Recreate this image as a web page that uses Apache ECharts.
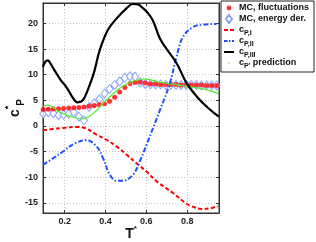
<!DOCTYPE html>
<html><head><meta charset="utf-8">
<script src="https://cdn.jsdelivr.net/npm/echarts@6/dist/echarts.min.js"></script>
<style>html,body{margin:0;padding:0;background:#fff}#c{width:316px;height:242px}</style>
</head><body><div id="c"></div>
<script>
// ---- data ----
const mcT = [0.095,0.12,0.145,0.17,0.195,0.22,0.245,0.27,0.295,0.32,0.345,0.37,0.395,0.42,0.445,0.47,0.495,0.52,0.545,0.57,0.595,0.62,0.645,0.67,0.695,0.72,0.745,0.77,0.795,0.82,0.845,0.87,0.895,0.92,0.945];
const mcFluct = [3.2,3.25,3.3,3.35,3.4,3.5,3.55,3.6,3.7,3.85,4.0,4.15,4.35,4.8,5.6,6.6,7.5,8.3,8.5,8.6,8.4,8.2,8.2,8.1,8.1,8.1,8.1,8.0,8.0,8.0,8.0,8.0,7.9,7.9,7.9];
const mcEnergy = [2.4,2.7,2.5,2.1,2.2,2.4,2.7,1.8,1.1,3.7,4.4,5.2,6.3,7.2,8.0,8.7,9.4,9.7,9.6,8.5,8.2,8.1,8.1,8.1,8.0,8.0,8.0,8.0,8.0,8.0,8.0,7.9,7.9,7.9,7.9];
const cp1T = [0.094,0.14,0.192,0.258,0.298,0.356,0.405,0.454,0.503,0.552,0.601,0.65,0.731,0.797,0.83,0.87,0.911,0.952];
const cp1V = [-0.86,-0.6,-0.4,-0.2,-0.4,-1.7,-2.7,-4.0,-5.6,-7.3,-8.9,-10.8,-13.1,-15.2,-15.8,-16.2,-16.1,-15.6];
const cp2T = [0.094,0.14,0.192,0.25,0.307,0.356,0.388,0.421,0.454,0.486,0.535,0.568,0.601,0.633,0.666,0.715,0.748,0.78,0.829,0.878,0.944];
const cp2V = [-7.6,-6.4,-5.0,-3.4,-2.8,-4.0,-6.3,-9.5,-10.7,-10.7,-9.5,-6.9,-3.7,-0.4,3.0,8.3,13.5,17.4,19.3,19.8,19.9];
const cp3T = [0.094,0.105,0.117,0.13,0.15,0.18,0.21,0.24,0.264,0.289,0.313,0.331,0.347,0.372,0.411,0.455,0.504,0.534,0.56,0.583,0.602,0.632,0.666,0.70,0.749,0.798,0.85,0.90,0.955];
const cp3V = [11.5,12.5,12.8,12.2,10.9,9.0,7.5,5.5,4.6,5.0,7.0,8.9,10.9,14.8,18.7,21.0,23.0,23.8,23.7,23.0,22.3,20.6,17.1,15.0,12.2,8.3,5.6,3.6,1.8];
const predT = [0.094,0.119,0.176,0.241,0.29,0.339,0.388,0.429,0.478,0.527,0.593,0.658,0.74,0.821,0.903,0.952];
const predV = [3.8,4.0,2.7,1.7,1.4,2.4,4.4,6.0,7.6,8.6,9.2,8.6,8.1,7.6,7.0,6.3];
const xTicks = [0.2,0.4,0.6,0.8];
const yTicks = [-15,-10,-5,0,5,10,15,20];
const names = ['MC, fluctuations','MC, energy der.','cP,I','cP,II','cP,III','cP prediction'];
const labels = ['MC, fluctuations','MC, energy der.','{c|c}{s|P,I}','{c|c}{s|P,II}','{c|c}{s|P,III}',"{c|c}{s|P'}{c| prediction}"];

// ---- chart ----
const FONT = '"Liberation Sans", Arial, sans-serif';
const zip = (a,b) => a.map((v,i)=>[v,b[i]]);
const xMin=0.094, xMax=0.956, yMin=-17, yMax=24;
const frame = '#333';
const boxPad = 'M0,0h0.01M10,10h0.01';
function baseAxis(extra){
  return Object.assign({type:'value',
    axisLine:{show:true,onZero:false,lineStyle:{color:frame,width:1}},
    splitLine:{show:false}}, extra);
}
const chart = echarts.init(document.getElementById('c'), null, {renderer:'canvas'});
chart.setOption({
  animation:false,
  grid:{left:43,top:3,right:97,bottom:29,containLabel:false,outerBoundsMode:'none',
    show:true,borderColor:frame,borderWidth:1,backgroundColor:'#fff'},
  xAxis:[
    baseAxis({min:xMin,max:xMax,
      axisTick:{show:true,inside:true,length:3,customValues:xTicks,lineStyle:{color:frame}},
      axisLabel:{customValues:xTicks,fontSize:9,fontWeight:'bold',color:'#222',fontFamily:FONT,margin:4,formatter:v=>v.toFixed(1)},
      splitLine:{show:true,lineStyle:{color:'#c4c4c4',type:[1,2],width:1}},
      name:'{m|T}{s|*}',nameLocation:'middle',nameGap:12,nameMoveOverlap:false,
      nameTextStyle:{rich:{
        m:{fontSize:14,fontWeight:'bold',fontFamily:FONT,color:'#111',lineHeight:18},
        s:{fontSize:8,fontWeight:'bold',fontFamily:FONT,color:'#111',verticalAlign:'top'}}}
    }),
    baseAxis({min:xMin,max:xMax,position:'top',
      axisTick:{show:true,inside:true,length:3,customValues:xTicks,lineStyle:{color:frame}},
      axisLabel:{show:false}})
  ],
  yAxis:[
    baseAxis({min:yMin,max:yMax,
      axisTick:{show:true,inside:true,length:3,customValues:yTicks,lineStyle:{color:frame}},
      axisLabel:{customValues:yTicks,fontSize:9,fontWeight:'bold',color:'#222',fontFamily:FONT,margin:5},
      splitLine:{show:true,lineStyle:{color:'#c4c4c4',type:[1,2],width:1}},
      name:'{c|c}{sup|*}{sub|P}',nameLocation:'middle',nameGap:17,nameRotate:90,nameMoveOverlap:false,
      nameTextStyle:{rich:{
        c:{fontSize:14,fontWeight:'bold',fontFamily:FONT,color:'#111',lineHeight:22},
        sup:{fontSize:9,fontWeight:'bold',fontFamily:FONT,color:'#111',verticalAlign:'top'},
        sub:{fontSize:10,fontWeight:'bold',fontFamily:FONT,color:'#111',verticalAlign:'bottom'}}}
    }),
    baseAxis({min:yMin,max:yMax,position:'right',
      axisTick:{show:true,inside:true,length:3,customValues:yTicks,lineStyle:{color:frame}},
      axisLabel:{show:false}})
  ],
  legend:{
    orient:'vertical',left:221,top:1,padding:[0,5,2,2],itemGap:-3,itemWidth:10,itemHeight:10,
    backgroundColor:'#fff',borderColor:'#222',borderWidth:1,
    textStyle:{fontFamily:FONT,fontSize:9,fontWeight:'bold',color:'#111',lineHeight:14,
      rich:{
        c:{fontFamily:FONT,fontSize:9,fontWeight:'bold',color:'#111',lineHeight:14},
        s:{fontFamily:FONT,fontSize:7,fontWeight:'bold',color:'#111',verticalAlign:'bottom'}}},
    formatter:n=>labels[names.indexOf(n)],
    data:[
      {name:names[0],icon:'path://'+boxPad+'M5,2.6A2.4,2.4,0,1,1,4.999,2.6Z'},
      {name:names[1],icon:'path://'+boxPad+'M5,1L8,5L5,9L2,5Z'},
      {name:names[2],icon:'path://'+boxPad+'M0,4h4v2h-4zM6,4h4v2h-4z'},
      {name:names[3],icon:'path://'+boxPad+'M0,4h3.5v2h-3.5zM5,4h1.5v2h-1.5zM8,4h2v2h-2z'},
      {name:names[4],icon:'path://'+boxPad+'M0,4h10v2h-10z'},
      {name:names[5],icon:'path://'+boxPad+'M5,4.2A0.8,0.8,0,1,1,4.999,4.2Z'}
    ]
  },
  series:[
    {name:names[1],type:'scatter',data:zip(mcT,mcEnergy),symbol:'diamond',symbolSize:[7,9],z:2,
      itemStyle:{color:'#ffffff',borderColor:'#6c8cff',borderWidth:1}},
    {name:names[0],type:'scatter',data:zip(mcT,mcFluct),symbol:'circle',symbolSize:5,z:3,
      itemStyle:{color:'#ff0000'}},
    {name:names[5],type:'line',data:zip(predT,predV),symbol:'none',smooth:0.4,z:4,
      itemStyle:{color:'#55ee33'},lineStyle:{color:'#55ee33',width:1.2}},
    {name:names[2],type:'line',data:zip(cp1T,cp1V),symbol:'none',smooth:0.4,z:5,
      itemStyle:{color:'#ff0000'},lineStyle:{color:'#ff0000',width:2,type:[4,2.5]}},
    {name:names[3],type:'line',data:zip(cp2T,cp2V),symbol:'none',smooth:0.4,z:5,
      itemStyle:{color:'#1f4fff'},lineStyle:{color:'#1f4fff',width:2,type:[5,2,1.5,2]}},
    {name:names[4],type:'line',data:zip(cp3T,cp3V),symbol:'none',smooth:0.4,z:6,
      itemStyle:{color:'#000000'},lineStyle:{color:'#000000',width:2.2}}
  ]
});
</script></body></html>
